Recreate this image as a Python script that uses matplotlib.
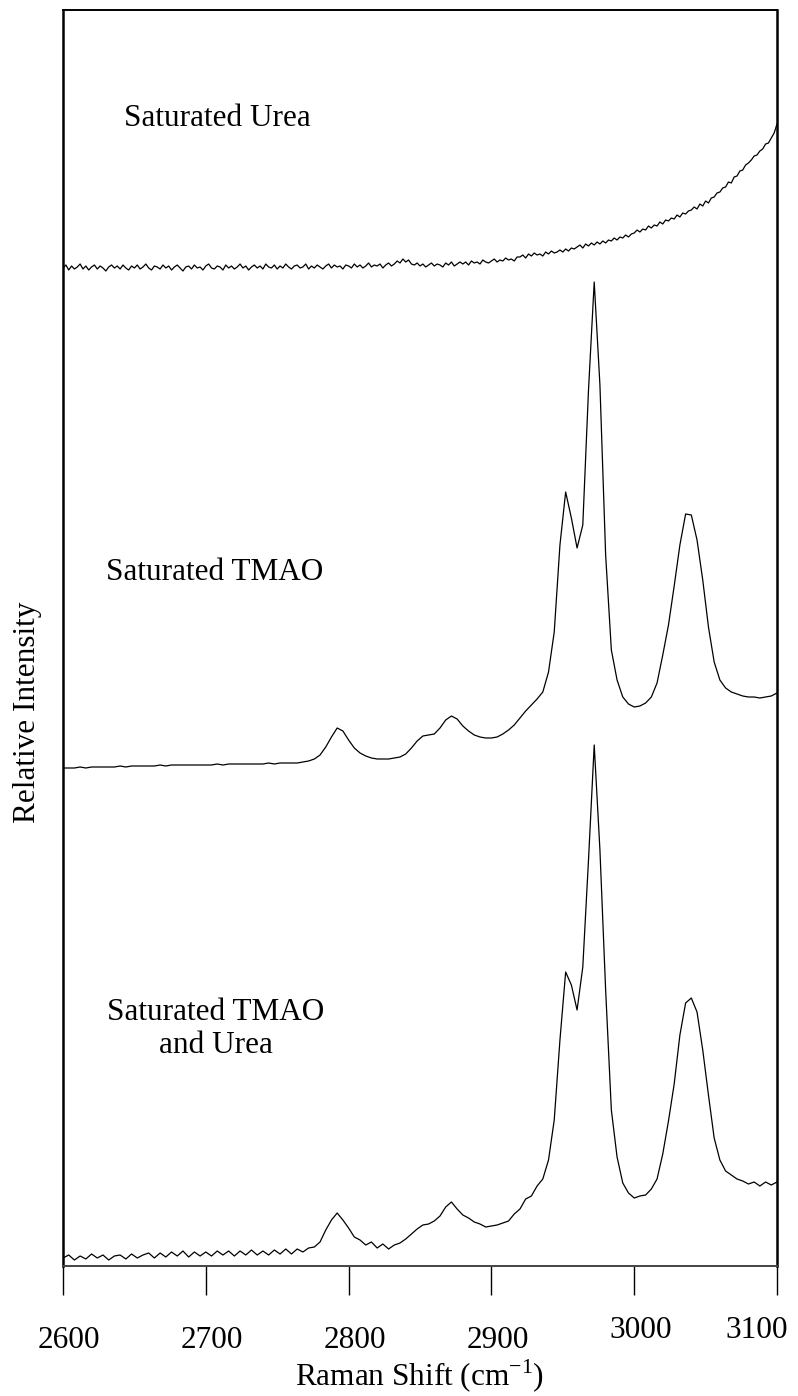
import numpy as np
import matplotlib
matplotlib.use("Agg")
import matplotlib.pyplot as plt
from matplotlib.transforms import ScaledTranslation

plt.rcParams['font.family'] = ['Liberation Serif', 'DejaVu Serif']
plt.rcParams['mathtext.fontset'] = 'custom'
plt.rcParams['mathtext.rm'] = 'Liberation Serif'

# Raman shift grids (cm-1)
shift_fine = np.arange(2600, 3101, 2)
shift = np.arange(2600, 3101, 4)

# Saturated urea (relative intensity), 2 cm-1 steps
urea = [10, 13, 8, 12, 9, 11, 14, 9, 12, 8, 11, 13, 9, 12, 10, 7, 11, 13, 10, 12,
        9, 13, 10, 8, 12, 10, 13, 9, 11, 14, 10, 8, 12, 11, 9, 13, 10, 12, 8, 11,
        13, 10, 7, 11, 12, 9, 13, 10, 11, 8, 12, 14, 10, 9, 12, 11, 8, 13, 10, 12,
        9, 11, 14, 10, 12, 8, 11, 13, 10, 12, 9, 14, 11, 10, 13, 9, 12, 10, 14, 11,
        9, 12, 13, 10, 11, 14, 9, 12, 10, 13, 11, 9, 12, 14, 10, 13, 11, 12, 9, 13,
        12, 10, 14, 11, 13, 10, 12, 15, 11, 13, 12, 14, 10, 13, 15, 12, 14, 17, 15, 19,
        16, 18, 14, 13, 15, 12, 14, 11, 13, 15, 12, 14, 13, 11, 15, 13, 16, 12, 14, 16,
        14, 16, 13, 17, 15, 16, 14, 18, 16, 15, 17, 19, 16, 18, 17, 20, 18, 19, 17, 21,
        21, 23, 20, 24, 22, 25, 23, 24, 22, 26, 24, 27, 25, 26, 28, 26, 29, 27, 30, 29,
        31, 33, 30, 34, 32, 35, 33, 36, 34, 37, 35, 38, 37, 40, 38, 41, 40, 43, 41, 44,
        45, 48, 46, 49, 48, 52, 50, 53, 52, 56, 54, 58, 57, 60, 59, 63, 61, 65, 64, 67,
        68, 71, 69, 74, 72, 77, 75, 80, 81, 85, 86, 90, 91, 96, 95, 101, 102, 107, 108, 113,
        115, 118, 122, 123, 127, 129, 134, 135, 140, 145, 154]

# Saturated TMAO, 4 cm-1 steps
tmao = [10, 10, 10, 11, 10, 11, 11, 11, 11, 11, 12, 11, 12, 12, 12, 12, 12, 13, 12, 13,
        13, 13, 13, 13, 13, 13, 13, 14, 13, 14, 14, 14, 14, 14, 14, 14, 15, 14, 15, 15,
        15, 15, 16, 17, 19, 23, 31, 41, 50, 47, 38, 30, 25, 22, 20, 19, 19, 19, 20, 21,
        24, 30, 37, 42, 43, 44, 50, 58, 62, 59, 52, 47, 43, 41, 40, 40, 41, 44, 48, 53,
        60, 67, 73, 79, 86, 106, 146, 233, 286, 260, 230, 253, 388, 496, 393, 223, 128, 98, 81, 74,
        71, 72, 75, 81, 95, 123, 153, 192, 233, 264, 263, 238, 198, 151, 116, 98, 90, 86, 84, 82,
        81, 81, 80, 81, 82, 85]

# Saturated TMAO and urea, 4 cm-1 steps
mix = [10, 13, 8, 12, 9, 14, 10, 13, 8, 12, 13, 9, 14, 10, 13, 15, 10, 15, 11, 16,
       12, 17, 11, 16, 12, 16, 12, 17, 13, 17, 12, 17, 13, 18, 13, 17, 13, 18, 14, 19,
       14, 19, 16, 20, 21, 26, 38, 48, 55, 48, 40, 31, 28, 23, 26, 20, 24, 19, 23, 25,
       29, 34, 39, 43, 44, 47, 52, 61, 66, 59, 53, 50, 46, 44, 41, 42, 43, 45, 47, 54,
       59, 69, 72, 82, 89, 108, 148, 228, 296, 283, 258, 301, 408, 523, 418, 278, 158, 111, 85, 75,
       70, 72, 73, 79, 89, 114, 147, 184, 233, 265, 270, 256, 218, 173, 130, 108, 97, 93, 89, 87,
       84, 86, 82, 86, 83, 86]

offsets = [990, 490, 0]
labels = ["Saturated Urea", "Saturated TMAO", "Saturated TMAO\nand Urea"]

fig = plt.figure(figsize=(7.98, 13.96), dpi=100)
ax = fig.add_axes([63 / 798, 130 / 1396, 714 / 798, 1256 / 1396])

for x, spec, off in zip([shift_fine, shift, shift], [urea, tmao, mix], offsets):
    ax.plot(x, np.array(spec) + off, color="black", lw=0.9)

ax.set_xlim(2600, 3100)
ax.set_ylim(2, 1258)
ax.set_yticks([])
ax.set_xticks(np.arange(2600, 3101, 100))
ax.tick_params(axis="x", direction="out", length=21, width=1, pad=22, labelsize=22.5)

# nudge the tick labels a bit; the last two sit higher
nudges = [(6, 0), (6, 0), (6, 0), (6, 0), (6, 10), (-20, 10)]
for lab, (dx, dy) in zip(ax.get_xticklabels(), nudges):
    lab.set_transform(lab.get_transform() + ScaledTranslation(dx / 100, dy / 100, fig.dpi_scale_trans))

for side in ["left", "right"]:
    ax.spines[side].set_linewidth(1.8)
ax.spines["top"].set_linewidth(1.4)
ax.spines["bottom"].set_linewidth(1.4)
ax.spines["bottom"].set_color("#444444")

ax.text(2643, 1150, labels[0], fontsize=22.5, va="center", ha="left")
ax.text(2630, 696, labels[1], fontsize=22.5, va="center", ha="left")
ax.text(2707, 239, labels[2], fontsize=22.5, va="center", ha="center", multialignment="center")

ax.set_xlabel(r"Raman Shift (cm$^{\mathregular{-1}}$)", fontsize=22.5, labelpad=2)
fig.text(28 / 798, 1 - 712 / 1396, "Relative Intensity", rotation=90,
         fontsize=22.5, ha="center", va="center")

fig.savefig("out.png", dpi=100, facecolor="white")
